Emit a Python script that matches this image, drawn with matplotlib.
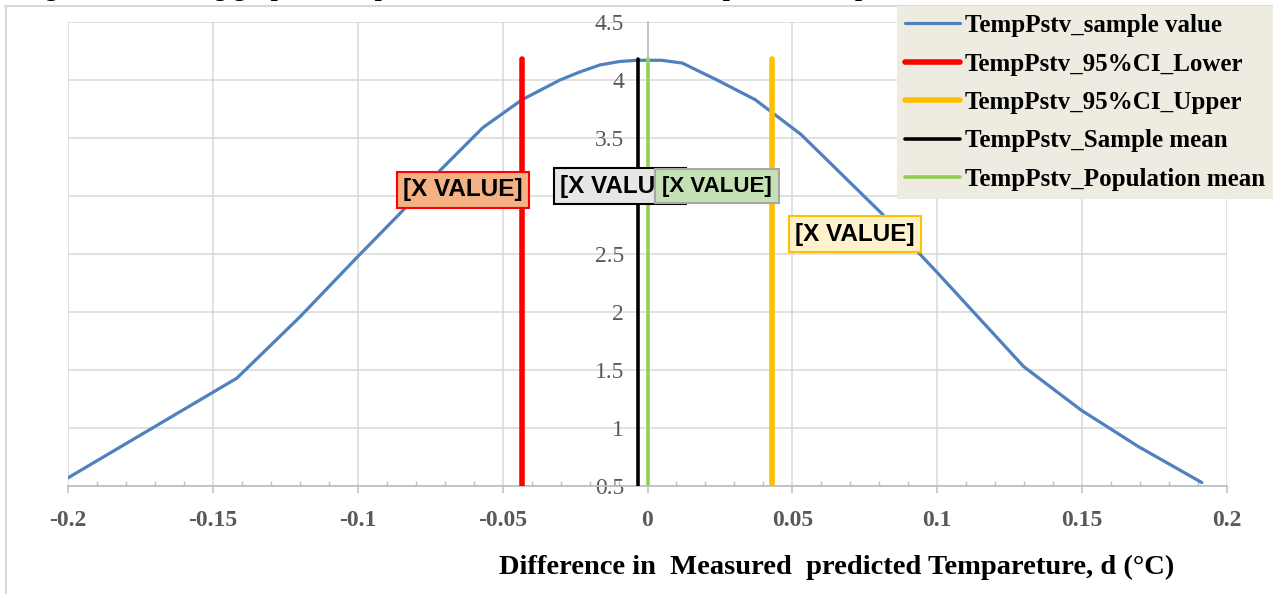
import matplotlib
matplotlib.use("Agg")
import matplotlib.pyplot as plt
from matplotlib.lines import Line2D
from matplotlib.ticker import MultipleLocator, FuncFormatter

# ---------------- data ----------------
d_values = [-0.2, -0.1417, -0.120, -0.1003, -0.0854, -0.0716, -0.0568, -0.0433,
            -0.0302, -0.0233, -0.0164, -0.0095, -0.0036, 0.0048, 0.012, 0.024,
            0.0372, 0.053, 0.0808, 0.1, 0.1298, 0.1496, 0.1694, 0.1913]
density = [0.57, 1.43, 1.957, 2.47, 2.85, 3.22, 3.59, 3.83,
           4.0, 4.07, 4.13, 4.16, 4.17, 4.17, 4.146, 4.0,
           3.83, 3.53, 2.85, 2.34, 1.53, 1.155, 0.84, 0.53]

ci_lower = -0.0433
ci_upper = 0.0431
sample_mean = -0.0033
population_mean = 0.0
line_bottom = 0.5
line_top = 4.18

series_labels = ["TempPstv_sample value", "TempPstv_95%CI_Lower", "TempPstv_95%CI_Upper",
                 "TempPstv_Sample mean", "TempPstv_Population mean"]
data_label_text = "[X VALUE]"
x_label = "Difference in  Measured  predicted Tempareture, d (°C)"
title_text = ("Figure 4.8: Testing graph of the paired difference dataset of the "
              "positive temperature validation dataset")

x_ticks = [-0.2, -0.15, -0.1, -0.05, 0, 0.05, 0.1, 0.15, 0.2]
y_ticks = [0.5, 1, 1.5, 2, 2.5, 3, 3.5, 4, 4.5]

# ---------------- figure ----------------
W, H = 1273, 594
fig = plt.figure(figsize=(W / 100, H / 100), dpi=100)
ax = fig.add_axes([68 / W, 1 - 486 / H, (1227 - 68) / W, (486 - 22) / H])

serif = ["Liberation Serif", "DejaVu Serif"]
sans = ["Liberation Sans", "DejaVu Sans"]
grid_c = "#D9D9D9"
axis_c = "#BFBFBF"

blue, = ax.plot(d_values, density, color="#4F81BD", lw=2.3, zorder=3,
                label=series_labels[0], solid_capstyle="round")
red, = ax.plot([ci_lower, ci_lower], [line_bottom, line_top], color="#FF0000", lw=4.0,
               solid_capstyle="round", zorder=4, label=series_labels[1])
orange, = ax.plot([ci_upper, ci_upper], [line_bottom, line_top], color="#FFC000", lw=4.0,
                  solid_capstyle="round", zorder=4, label=series_labels[2])
black, = ax.plot([sample_mean, sample_mean], [line_bottom, line_top], color="#000000", lw=2.6,
                 solid_capstyle="round", zorder=4, label=series_labels[3])
green, = ax.plot([population_mean, population_mean], [line_bottom, line_top], color="#92D050",
                 lw=2.6, solid_capstyle="round", zorder=4, label=series_labels[4])

ax.set_xlim(-0.2, 0.2)
ax.set_ylim(0.5, 4.5)
ax.set_xticks(x_ticks)
ax.set_yticks(y_ticks)
ax.xaxis.set_minor_locator(MultipleLocator(0.01))
ax.xaxis.set_major_formatter(FuncFormatter(lambda v, p: f"{v:g}"))
ax.yaxis.set_major_formatter(FuncFormatter(lambda v, p: f"{v:g}"))

ax.grid(True, which="major", color=grid_c, lw=1.1, zorder=0)
ax.set_axisbelow(True)
for s in ["top", "right"]:
    ax.spines[s].set_visible(False)
ax.spines["left"].set_position(("data", 0))
ax.spines["left"].set_color(axis_c)
ax.spines["left"].set_linewidth(1.1)
ax.spines["bottom"].set_color(axis_c)
ax.spines["bottom"].set_linewidth(1.3)

ax.tick_params(axis="x", which="major", direction="out", length=5, width=1.1, color=axis_c,
               pad=12, labelsize=17, labelcolor="#595959")
ax.tick_params(axis="x", which="minor", direction="in", length=3.6, width=1.0, color=axis_c)
ax.tick_params(axis="y", which="major", length=0, pad=17, labelsize=17, labelcolor="#595959")
for t in ax.get_xticklabels():
    t.set_fontfamily(serif)
    t.set_fontweight("bold")
for t in ax.get_yticklabels():
    t.set_fontfamily(serif)

# data labels
def box_label(x, y, fc, ec, size=17.5, family=sans, z=6, lw=1.5, pad=0.25):
    ax.text(x, y, data_label_text, ha="center", va="center", fontsize=size,
            fontweight="bold", family=family, color="black", zorder=z,
            bbox=dict(boxstyle=f"square,pad={pad}", fc=fc, ec=ec, lw=lw))

box_label(-0.0637, 3.052, "#F4B183", "#FF0000")
box_label(-0.0095, 3.086, "#E7E6E6", "#000000", z=6)
box_label(0.0240, 3.086, "#C5E0B4", "#A6A6A6", size=16, pad=0.3,
          family=["Liberation Sans Narrow", "Liberation Sans", "DejaVu Sans"], z=7)
box_label(0.0716, 2.672, "#FFF2CC", "#FFC000")

# legend
leg = fig.legend(handles=[blue, red, orange, black, green], loc="upper left",
                 bbox_to_anchor=(897 / W, 1 - 6 / H), bbox_transform=fig.transFigure,
                 frameon=True, fancybox=False, facecolor="#EEECE1", edgecolor="none",
                 framealpha=1, borderaxespad=0, borderpad=0.32, handlelength=2.2,
                 handletextpad=0.2, labelspacing=0.62,
                 prop={"family": serif, "weight": "bold", "size": 18})
leg.set_zorder(10)

# outer chart border
fig.add_artist(Line2D([5 / W, 1], [1 - 6 / H, 1 - 6 / H], transform=fig.transFigure,
                      color=grid_c, lw=1.5))
fig.add_artist(Line2D([6 / W, 6 / W], [0, 1 - 6 / H], transform=fig.transFigure,
                      color=grid_c, lw=1.5))

# axis title and cut-off caption
fig.text(837 / W, 1 - 567 / H, x_label, ha="center", va="center", fontsize=20.5,
         fontweight="bold", family=serif, color="black")
fig.text(22 / W, 1 + 4 / H, title_text, ha="left", va="baseline", fontsize=18.5,
         fontweight="bold", family=serif, color="black")

fig.savefig("out.png", dpi=100)
